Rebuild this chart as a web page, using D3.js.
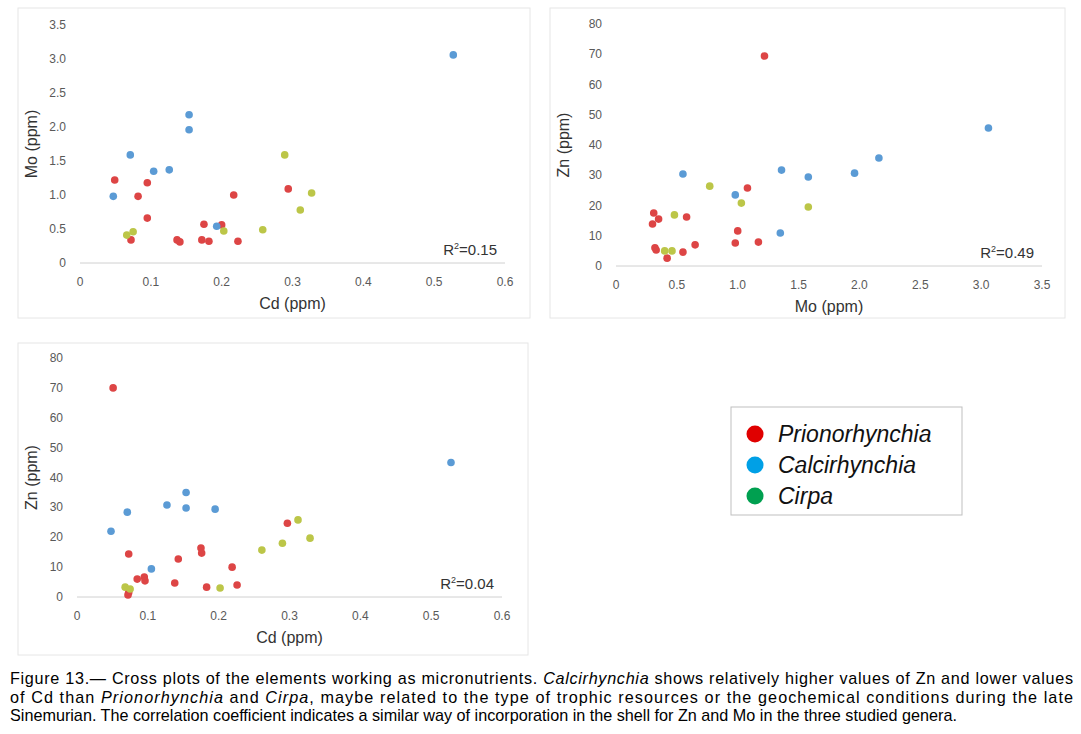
<!DOCTYPE html>
<html><head><meta charset="utf-8">
<script src="https://cdn.jsdelivr.net/npm/d3@7"></script>
<style>body{margin:0;background:#fff;font-family:"Liberation Sans",Arial,sans-serif}</style>
</head><body>
<svg id="c" width="1081" height="734"></svg>
<script>
// Cd vs Mo
var cdMoRed = [[0.049,1.22],[0.095,1.18],[0.082,0.98],[0.095,0.66],[0.072,0.34],[0.137,0.34],[0.141,0.31],[0.175,0.57],[0.172,0.34],[0.182,0.32],[0.2,0.56],[0.217,1.0],[0.223,0.32],[0.294,1.09]];
var cdMoBlue = [[0.047,0.98],[0.071,1.59],[0.104,1.35],[0.126,1.37],[0.154,2.18],[0.154,1.96],[0.193,0.54],[0.527,3.06]];
var cdMoGreen = [[0.066,0.41],[0.075,0.46],[0.203,0.47],[0.258,0.49],[0.289,1.59],[0.311,0.78],[0.327,1.03]];
// Mo vs Zn
var moZnRed = [[1.22,69.4],[1.08,25.8],[0.31,17.5],[0.35,15.5],[0.58,16.2],[0.3,13.9],[0.32,6],[0.42,2.6],[0.65,7],[0.98,7.6],[1.0,11.6],[1.17,7.9],[0.55,4.6],[0.33,5.3]];
var moZnBlue = [[0.55,30.4],[0.98,23.5],[1.36,31.7],[1.58,29.4],[1.96,30.7],[2.16,35.7],[3.06,45.6],[1.35,10.9]];
var moZnGreen = [[0.4,5],[0.46,5],[0.48,16.9],[0.77,26.4],[1.03,20.8],[1.58,19.5]];
// Cd vs Zn
var cdZnRed = [[0.051,70],[0.073,14.4],[0.085,6],[0.095,6.7],[0.096,5.4],[0.072,0.7],[0.073,1.5],[0.138,4.7],[0.143,12.7],[0.175,16.4],[0.176,14.7],[0.183,3.3],[0.219,10],[0.226,4],[0.297,24.7]];
var cdZnBlue = [[0.048,22],[0.071,28.4],[0.105,9.4],[0.127,30.8],[0.154,35],[0.154,29.8],[0.195,29.4],[0.528,45]];
var cdZnGreen = [[0.068,3.3],[0.075,2.7],[0.202,3],[0.261,15.7],[0.29,18],[0.312,25.8],[0.329,19.7]];

var genera = ["Prionorhynchia","Calcirhynchia","Cirpa"];
var ptCol = ["#dd4545","#5b9bd5","#bcc648"];
var legCol = ["#e00000","#00a0e6","#00a050"];

var svg = d3.select("#c");

function panel(o){
  var g = svg.append("g");
  g.append("rect").attr("x",o.bx).attr("y",o.by).attr("width",o.bw).attr("height",o.bh)
    .attr("fill","#fff").attr("stroke","#e6e6e6");
  var x = d3.scaleLinear().domain(o.xd).range([o.x0,o.x1]);
  var y = d3.scaleLinear().domain(o.yd).range([o.y0,o.y1]);
  g.append("line").attr("x1",o.x0).attr("x2",o.x1).attr("y1",o.y0).attr("y2",o.y0).attr("stroke","#d0d0d0");
  g.selectAll(".xl").data(o.xt).enter().append("text")
    .attr("x",d=>x(d)).attr("y",o.y0+23).attr("text-anchor","middle")
    .attr("font-size",12).attr("fill","#595959").text(o.xf);
  g.selectAll(".yl").data(o.yt).enter().append("text")
    .attr("x",o.x0-14).attr("y",d=>y(d)+4).attr("text-anchor","end")
    .attr("font-size",12).attr("fill","#595959").text(o.yf);
  g.append("text").attr("x",(o.x0+o.x1)/2).attr("y",o.y0+46).attr("text-anchor","middle")
    .attr("font-size",16).attr("fill","#333").text(o.xl);
  g.append("text").attr("transform","translate("+(o.bx+19)+","+((o.y0+o.y1)/2)+") rotate(-90)")
    .attr("text-anchor","middle").attr("font-size",16).attr("fill","#333").text(o.yl);
  o.series.forEach(function(s,i){
    g.selectAll(".p"+i).data(s).enter().append("circle")
      .attr("cx",d=>x(d[0])).attr("cy",d=>y(d[1])).attr("r",3.8).attr("fill",ptCol[i]);
  });
  var r = g.append("text").attr("x",o.x1-8).attr("y",o.y0-8).attr("text-anchor","end")
    .attr("font-size",15).attr("fill","#333");
  r.append("tspan").text("R");
  r.append("tspan").attr("font-size",9).attr("dy",-6).text("2");
  r.append("tspan").attr("dy",6).text("="+o.r2);
}

panel({bx:18,by:8,bw:512,bh:310,x0:80,x1:505,y0:263,y1:25,xd:[0,0.6],yd:[0,3.5],
  xt:[0,0.1,0.2,0.3,0.4,0.5,0.6],yt:[0,0.5,1,1.5,2,2.5,3,3.5],
  xf:d=>d===0?"0":d3.format(".1f")(d),yf:d=>d===0?"0":d3.format(".1f")(d),
  xl:"Cd (ppm)",yl:"Mo (ppm)",r2:"0.15",series:[cdMoRed,cdMoBlue,cdMoGreen]});
panel({bx:550,by:8,bw:515,bh:310,x0:616,x1:1042,y0:266,y1:24,xd:[0,3.5],yd:[0,80],
  xt:[0,0.5,1,1.5,2,2.5,3,3.5],yt:[0,10,20,30,40,50,60,70,80],
  xf:d=>d===0?"0":d3.format(".1f")(d),yf:d=>d,
  xl:"Mo (ppm)",yl:"Zn (ppm)",r2:"0.49",series:[moZnRed,moZnBlue,moZnGreen]});
panel({bx:18,by:343,bw:510,bh:312,x0:77,x1:502,y0:597,y1:358,xd:[0,0.6],yd:[0,80],
  xt:[0,0.1,0.2,0.3,0.4,0.5,0.6],yt:[0,10,20,30,40,50,60,70,80],
  xf:d=>d===0?"0":d3.format(".1f")(d),yf:d=>d,
  xl:"Cd (ppm)",yl:"Zn (ppm)",r2:"0.04",series:[cdZnRed,cdZnBlue,cdZnGreen]});

// legend
var lg = svg.append("g");
lg.append("rect").attr("x",731).attr("y",407).attr("width",231).attr("height",108)
  .attr("fill","#fff").attr("stroke","#bfbfbf");
genera.forEach(function(n,i){
  lg.append("circle").attr("cx",755).attr("cy",434+i*31).attr("r",8.5).attr("fill",legCol[i]);
  lg.append("text").attr("x",778).attr("y",442+i*31).attr("font-size",23)
    .attr("font-style","italic").attr("fill","#111").text(n);
});

// caption
var cap = [
  [["Figure 13.— Cross plots of the elements working as micronutrients. ",0],["Calcirhynchia",1],[" shows relatively higher values of Zn and lower values",0]],
  [["of Cd than ",0],["Prionorhynchia",1],[" and ",0],["Cirpa",1],[", maybe related to the type of trophic resources or the geochemical conditions during the late",0]],
  [["Sinemurian. The correlation coefficient indicates a similar way of incorporation in the shell for Zn and Mo in the three studied genera.",0]]
];
cap.forEach(function(line,i){
  var t = svg.append("text").attr("x",10).attr("y",684+i*18.5).attr("font-size",16.2).attr("fill","#000");
  if(i<2) t.attr("textLength",1063).attr("lengthAdjust","spacing");
  line.forEach(function(p){ t.append("tspan").attr("font-style",p[1]?"italic":"normal").text(p[0]); });
});
</script>
</body></html>
